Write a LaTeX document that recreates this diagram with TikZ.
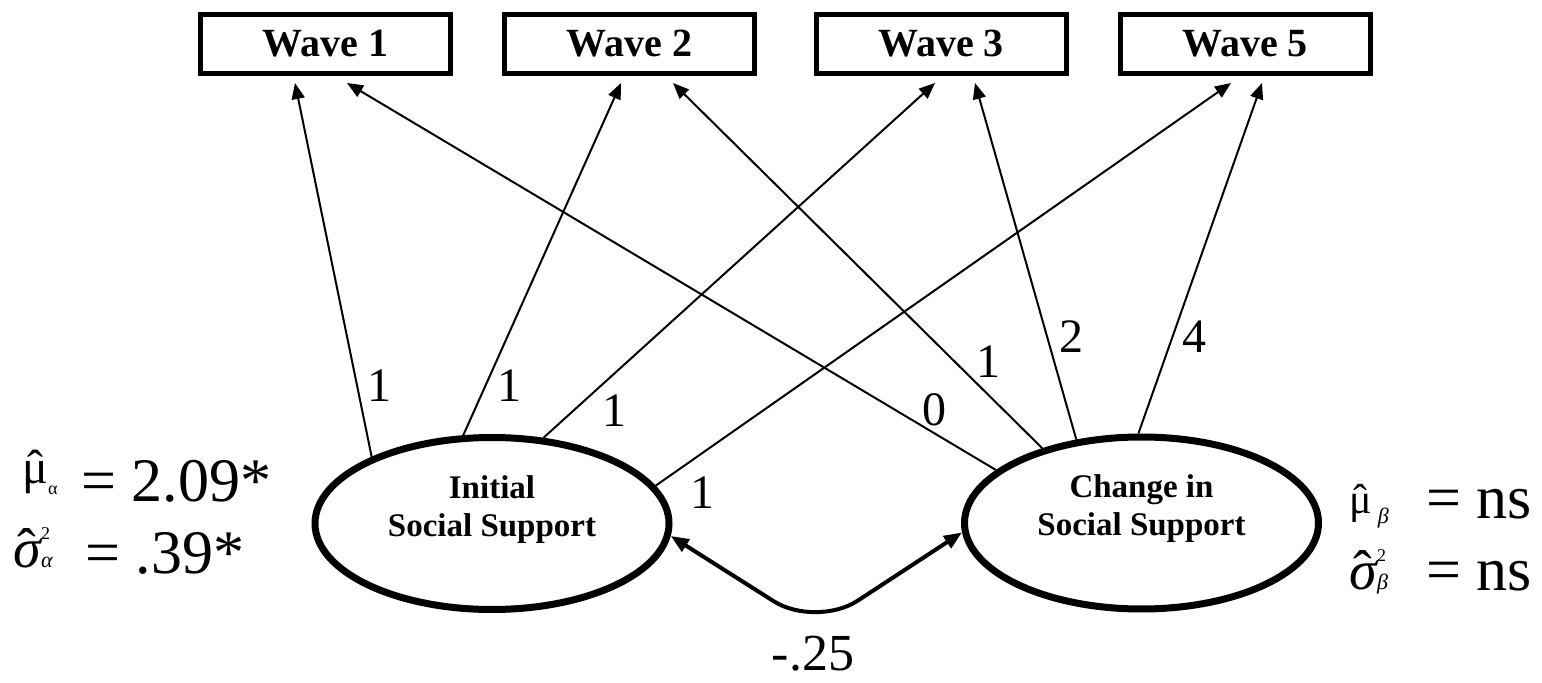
\documentclass[tikz,border=0pt]{standalone}
\usepackage{fontspec}
\setmainfont{Liberation Serif}
\usetikzlibrary{arrows.meta,shapes.geometric}
\newcommand\hatted[1]{\ooalign{#1\cr\hidewidth ˆ\hidewidth\cr}}
\begin{document}
\begin{tikzpicture}[x=0.5pt,y=-0.5pt,
  wave/.style={draw, line width=2.5pt, minimum width=125pt, minimum height=29.5pt,
    inner sep=0pt, font=\fontsize{20}{24}\selectfont\bfseries},
  latent/.style={draw, ellipse, line width=3.5pt, inner sep=0pt,
    minimum width=177pt, minimum height=86pt},
  etext/.style={align=center, inner sep=0pt, font=\fontsize{16.5}{19}\selectfont\bfseries},
  loading/.style={-{Triangle[length=8pt,width=6.5pt]}, line width=1pt},
  cov/.style={{Triangle[length=9pt,width=7pt]}-{Triangle[length=9pt,width=7pt]}, line width=2pt},
  coef/.style={inner sep=0pt, font=\fontsize{24}{28}\selectfont},
  val/.style={inner sep=0pt, anchor=base west, font=\fontsize{31}{36}\selectfont},
  musym/.style={inner sep=0pt, anchor=base west, font=\fontsize{24}{28}\selectfont},
  musymsmall/.style={inner sep=0pt, anchor=base west, font=\fontsize{21}{24}\selectfont},
  sgsym/.style={inner sep=0pt, anchor=base west, font=\fontsize{28}{32}\selectfont}
]
\path[fill=white] (0,0) rectangle (1542,683);
\useasboundingbox (0,0) rectangle (1542,683);

% observed waves
\node[wave] (w1) at (325.5,44) {Wave 1};
\node[wave] (w2) at (629.5,44) {Wave 2};
\node[wave] (w3) at (941,44) {Wave 3};
\node[wave] (w5) at (1245,44) {Wave 5};

% arrow tips below the boxes
\coordinate (t1a) at (295,83);
\coordinate (t1b) at (347,83);
\coordinate (t2a) at (621,83);
\coordinate (t2b) at (673,83);
\coordinate (t3a) at (935,83);
\coordinate (t3b) at (975,83);
\coordinate (t5a) at (1231,83);
\coordinate (t5b) at (1262,83);

% latent factors
\node[latent] (init) at (492,523.5) {};
\node[latent] (chg) at (1141.5,523) {};
\node[etext] (inittxt) at ([yshift=7pt]init.center) {Initial\\Social Support};
\node[etext] (chgtxt) at ([yshift=7pt]chg.center) {Change in\\Social Support};

% loadings
\draw[loading] (init.151.7) -- (t1a);
\draw[loading] (init.108.3) -- (t2a);
\draw[loading] (init.59.5) -- (t3a);
\draw[loading] (init.13.1) -- (t5a);
\draw[loading] (chg.160.9) -- (t1b);
\draw[loading] (chg.143.8) -- (t2b);
\draw[loading] (chg.128.3) -- (t3b);
\draw[loading] (chg.92.8) -- (t5b);

% loading labels
\node[coef] (la) at (379,386) {1};
\node[coef] (lb) at (509,386) {1};
\node[coef] (lc) at (614,411) {1};
\node[coef] (ld) at (702,493) {1};
\node[coef] (le) at (934,410) {0};
\node[coef] (lf) at (988,362) {1};
\node[coef] (lg) at (1071,337) {2};
\node[coef] (lh) at (1194,337) {4};

% covariance
\coordinate (cv) at (816,628);
\draw[cov, rounded corners=25pt] (init.-4) -- (cv) -- (chg.183.7);
\node[coef, anchor=base, font=\fontsize{26}{30}\selectfont] (lcov) at (813,670) {-.25};

% estimates, left
\node[musym] (mua) at (22,484) {\hatted{μ}\raisebox{-5.5pt}{\fontsize{9}{9}\selectfont α}};
\node[val] (muav) at (81,502) {= 2.09*};
\node[sgsym] (sga) at (13,568) {\hatted{\itshape σ}\rlap{\raisebox{14pt}{\fontsize{9}{9}\selectfont 2}}{\fontsize{11}{11}\selectfont\itshape α}};
\node[val] (sgav) at (85,574) {= .39*};

% estimates, right
\node[musymsmall] (mub) at (1349,514) {\hatted{μ}\hspace{3pt}\raisebox{-5pt}{\fontsize{11}{11}\selectfont\itshape β}};
\node[val] (mubv) at (1426,519) {= ns};
\node[sgsym] (sgb) at (1349,589) {\hatted{\itshape σ}\rlap{\raisebox{13.5pt}{\fontsize{9}{9}\selectfont 2}}{\fontsize{11}{11}\selectfont\itshape β}};
\node[val] (sgbv) at (1426,591) {= ns};
\end{tikzpicture}
\end{document}
